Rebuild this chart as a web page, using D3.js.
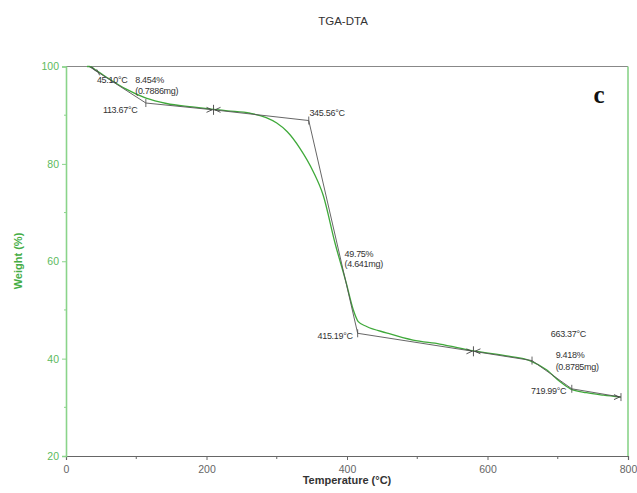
<!DOCTYPE html>
<html>
<head>
<meta charset="utf-8">
<script src="https://cdn.jsdelivr.net/npm/d3@7"></script>
<style>
  html, body { margin: 0; padding: 0; background: #fff; }
  svg { display: block; font-family: Arial, "Liberation Sans", sans-serif; }
</style>
</head>
<body>
<svg id="chart" width="637" height="493"></svg>
<script>
// TGA weight-loss curve (temperature in °C, weight in %)
const temperature = [30, 33, 45, 62, 85, 114, 143, 180, 210, 230, 262, 285, 300, 315, 333, 352, 366, 383, 399, 409, 416, 428, 456, 494, 532, 580, 630, 660, 684, 703, 718, 741, 765, 790];
const weight      = [100, 100, 99.0, 97.4, 95.4, 93.5, 92.4, 91.7, 91.2, 90.9, 90.4, 89.5, 88.4, 86.6, 83.2, 78.4, 73.6, 63.7, 55.5, 50.0, 47.6, 46.6, 45.3, 43.8, 43.0, 41.6, 40.5, 39.6, 37.7, 35.3, 33.8, 33.0, 32.5, 32.1];

// Step-analysis construction lines (onset / endset points)
const stepT = [33, 113.67, 210, 345.56, 415.19, 580, 663.37, 719.99, 790];
const stepW = [100, 92.5, 91.1, 88.9, 45.2, 41.5, 39.6, 33.8, 32.1];

// Annotation texts with their anchor (°C, %)
const noteText = ["45.10°C", "8.454%", "(0.7886mg)", "113.67°C", "345.56°C", "49.75%", "(4.641mg)", "415.19°C", "663.37°C", "9.418%", "(0.8785mg)", "719.99°C"];
const noteT    = [44, 98.5, 98.5, 52.5, 346.5, 396.5, 396.5, 358, 690, 697, 697, 662];
const noteW    = [96.6, 96.6, 94.3, 90.4, 89.9, 60.8, 58.8, 44.1, 44.4, 40.1, 37.7, 32.7];

const xTicks = [0, 200, 400, 600, 800];
const xMinor = [100, 300, 500, 700];
const yTicks = [20, 40, 60, 80, 100];
const yMinor = [30, 50, 70, 90];

const svg = d3.select("#chart");
const plotL = 66, plotR = 628, plotT = 66.5, plotB = 456;
const x = d3.scaleLinear().domain([0, 800]).range([plotL, plotR]);
const y = d3.scaleLinear().domain([20, 100]).range([plotB, plotT]);

const axisGreen = "#8ad48a", labelGreen = "#5dba5d", curveGreen = "#3fa93a";

// title
svg.append("text").attr("x", 343).attr("y", 25).attr("text-anchor", "middle")
  .attr("font-size", 11.5).attr("fill", "#333").text("TGA-DTA");

// frame: top line grey, right line green
svg.append("line").attr("x1", plotL).attr("x2", plotR).attr("y1", plotT).attr("y2", plotT)
  .attr("stroke", "#888").attr("stroke-width", 1.2);
svg.append("line").attr("x1", plotR).attr("x2", plotR).attr("y1", plotT).attr("y2", plotB)
  .attr("stroke", axisGreen).attr("stroke-width", 1.6);

// x axis
const gx = svg.append("g").attr("transform", `translate(0,${plotB})`)
  .call(d3.axisBottom(x).tickValues(xTicks).tickSize(4).tickFormat(d3.format("d")));
gx.select(".domain").attr("stroke", "#666").attr("stroke-width", 1.2);
gx.selectAll(".tick line").attr("stroke", "#666");
gx.selectAll(".tick text").attr("fill", "#666").attr("font-size", 10.5).attr("dy", "0.95em");
svg.append("g").selectAll("line").data(xMinor).join("line")
  .attr("x1", d => x(d)).attr("x2", d => x(d)).attr("y1", plotB).attr("y2", plotB + 3)
  .attr("stroke", "#666");

// y axis
const gy = svg.append("g").attr("transform", `translate(${plotL},0)`)
  .call(d3.axisLeft(y).tickValues(yTicks).tickSize(4).tickFormat(d3.format("d")));
gy.select(".domain").attr("stroke", axisGreen).attr("stroke-width", 1.6);
gy.selectAll(".tick line").attr("stroke", axisGreen);
gy.selectAll(".tick text").attr("fill", labelGreen).attr("font-size", 10.5);
svg.append("g").selectAll("line").data(yMinor).join("line")
  .attr("x1", plotL - 2).attr("x2", plotL).attr("y1", d => y(d)).attr("y2", d => y(d))
  .attr("stroke", axisGreen);

// axis titles
svg.append("text").attr("x", 347).attr("y", 484).attr("text-anchor", "middle")
  .attr("font-size", 11).attr("font-weight", "bold").attr("fill", "#333").text("Temperature (°C)");
svg.append("text").attr("transform", `translate(22,261) rotate(-90)`).attr("text-anchor", "middle")
  .attr("font-size", 11).attr("font-weight", "bold").attr("fill", "#45ad45").text("Weight (%)");

// panel letter
svg.append("text").attr("x", 599).attr("y", 103).attr("text-anchor", "middle")
  .attr("font-family", "'Liberation Serif', 'DejaVu Serif', serif").attr("font-weight", "bold")
  .attr("font-size", 25).attr("fill", "#111").text("c");

// weight curve
const line = d3.line().x((d, i) => x(temperature[i])).y(d => y(d)).curve(d3.curveMonotoneX);
svg.append("path").datum(weight).attr("d", line)
  .attr("fill", "none").attr("stroke", curveGreen).attr("stroke-width", 1.3);

// construction lines
const stepLine = d3.line().x((d, i) => x(stepT[i])).y(d => y(d));
svg.append("path").datum(stepW).attr("d", stepLine)
  .attr("fill", "none").attr("stroke", "#555").attr("stroke-width", 0.9);

// small vertical markers at the step points
const tickIdx = [1, 3, 4, 6, 7, 8];
svg.append("g").selectAll("line").data(tickIdx).join("line")
  .attr("x1", i => x(stepT[i])).attr("x2", i => x(stepT[i]))
  .attr("y1", i => y(stepW[i]) - 4).attr("y2", i => y(stepW[i]) + 4)
  .attr("stroke", "#555").attr("stroke-width", 0.9);

// split markers  >|<  at the boundaries between steps
const splitIdx = [2, 5];
const sg = svg.append("g").attr("stroke", "#444").attr("stroke-width", 0.9).attr("fill", "none");
splitIdx.forEach(i => {
  const cx = x(stepT[i]), cy = y(stepW[i]);
  sg.append("line").attr("x1", cx).attr("x2", cx).attr("y1", cy - 5).attr("y2", cy + 5);
  sg.append("path").attr("d", `M${cx - 7},${cy - 2.5}L${cx - 1.5},${cy}L${cx - 7},${cy + 2.5}`);
  sg.append("path").attr("d", `M${cx + 7},${cy - 2.5}L${cx + 1.5},${cy}L${cx + 7},${cy + 2.5}`);
});
// end arrow  >|
{
  const cx = x(stepT[8]), cy = y(stepW[8]);
  sg.append("path").attr("d", `M${cx - 7},${cy - 2.5}L${cx - 1.5},${cy}L${cx - 7},${cy + 2.5}`);
}
// start marker
{
  const cx = x(stepT[0]), cy = y(stepW[0]);
  sg.append("path").attr("d", `M${cx + 2},${cy}L${cx + 7},${cy + 5}`);
  sg.append("path").attr("d", `M${x(45.1) - 1},${y(98.8) - 3}L${x(45.1) + 2},${y(98.8) + 3}`);
}

// annotation labels
svg.append("g").selectAll("text").data(noteText).join("text")
  .attr("x", (d, i) => x(noteT[i])).attr("y", (d, i) => y(noteW[i]))
  .attr("font-size", 9).attr("fill", "#333").attr("letter-spacing", "-0.3")
  .text(d => d);
</script>
</body>
</html>
